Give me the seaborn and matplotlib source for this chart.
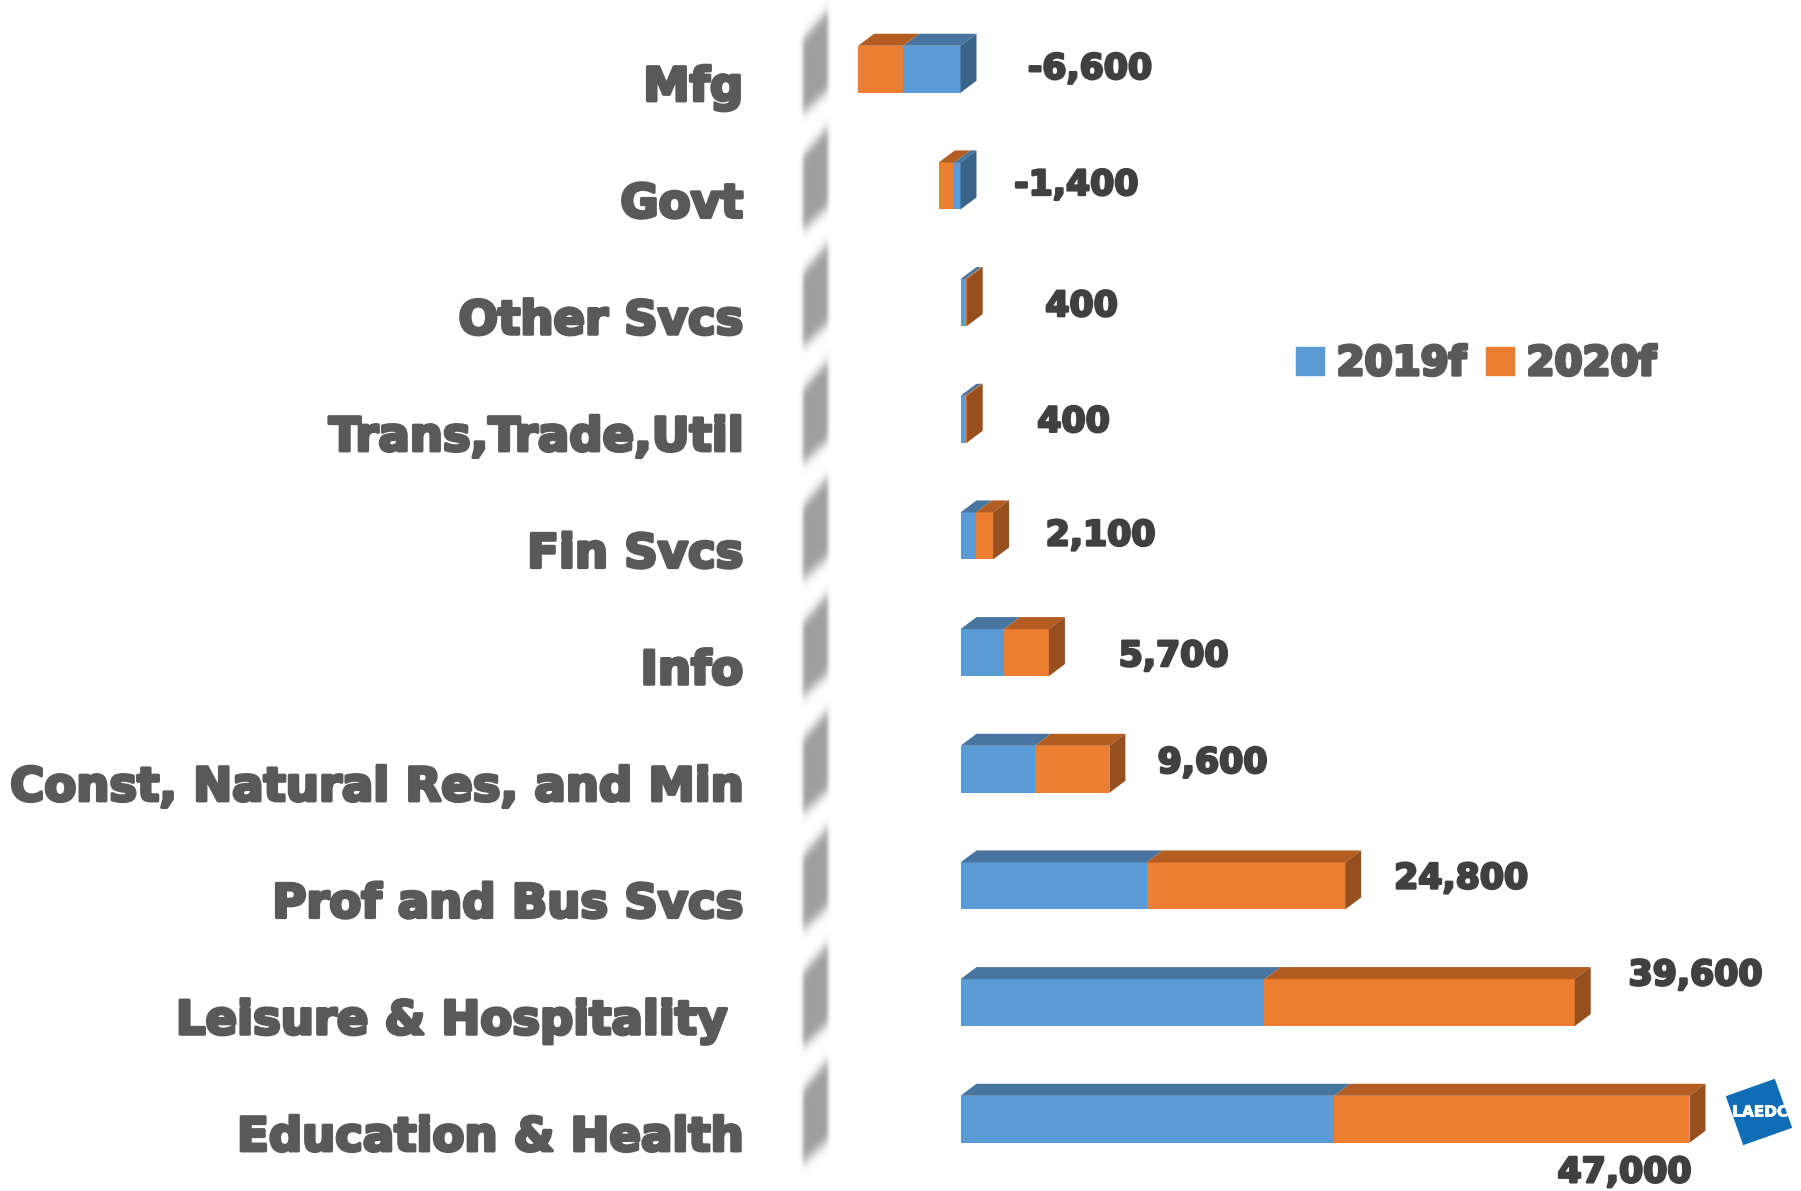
import numpy as np
import pandas as pd
import matplotlib
matplotlib.use('Agg')
import matplotlib.pyplot as plt
import matplotlib.patheffects as pe
from matplotlib.patches import Patch, Rectangle
from matplotlib.transforms import Affine2D, ScaledTranslation
import seaborn as sns

# Values
sectors = ['Mfg', 'Govt', 'Other Svcs', 'Trans,Trade,Util', 'Fin Svcs', 'Info',
           'Const, Natural Res, and Min', 'Prof and Bus Svcs', 'Leisure & Hospitality ',
           'Education & Health']
jobs_2019 = [-3700, -400, 300, 300, 1000, 2800, 4800, 12000, 19600, 24100]
jobs_2020 = [-2900, -1000, 100, 100, 1100, 2900, 4800, 12800, 20000, 22900]
total_labels = ['-6,600', '-1,400', '400', '400', '2,100', '5,700', '9,600', '24,800', '39,600', '47,000']

# Hand placed labels: offset in pixels from the bar end
label_dx = [129.5, 115.7, 114.8, 106.8, 107.4, 124.6, 103.1, 115.9, 120.8, -65]
label_dy = [-0.5, -1, 3.5, 2.5, -0.5, 3.5, -6.5, -7.5, -27.5, 53]

BLUE, ORANGE = '#5B9BD5', '#ED7D31'
BLUE_TOP, ORANGE_TOP = '#47759F', '#B35D22'
BLUE_SIDE, ORANGE_SIDE = '#3A6487', '#97501D'

W, H = 1801, 1191
PX_PER_JOB = 0.01551
ROW_PX = 116.67
ZERO_PX, FIRST_ROW_PX = 960.5, 69.25
AX_LEFT = 760

df = pd.DataFrame({'sector': sectors, '2019f': jobs_2019, '2020f': jobs_2020})
df['total'] = df['2019f'] + df['2020f']

sns.set_theme(style='white')
plt.rcParams['font.family'] = ['DejaVu Sans']
fig = plt.figure(figsize=(W / 100, H / 100), dpi=100)
ax = fig.add_axes([AX_LEFT / W, 0, 1 - AX_LEFT / W, 1])

bar_h = 47 / ROW_PX
sns.barplot(data=df, y='sector', x='total', color=ORANGE, saturation=1, width=bar_h, linewidth=0, ax=ax)
sns.barplot(data=df, y='sector', x='2019f', color=BLUE, saturation=1, width=bar_h, linewidth=0, ax=ax)

ax.set_xlim((AX_LEFT - ZERO_PX) / PX_PER_JOB, (W - ZERO_PX) / PX_PER_JOB)
ax.set_ylim((H - FIRST_ROW_PX) / ROW_PX, -FIRST_ROW_PX / ROW_PX)
sns.despine(ax=ax, left=True, bottom=True)
ax.set_xticks([])
ax.set_xlabel('')
ax.set_ylabel('')

# fake 3D depth of the bars
dx = 16 / PX_PER_JOB
dy = 12 / ROW_PX
for i, (b, t) in enumerate(zip(df['2019f'], df['total'])):
    top = i - bar_h / 2
    bottom = i + bar_h / 2
    ax.fill([0, b, b + dx, dx], [top, top, top - dy, top - dy], color=BLUE_TOP, lw=0, zorder=3)
    ax.fill([b, t, t + dx, b + dx], [top, top, top - dy, top - dy], color=ORANGE_TOP, lw=0, zorder=3)
    end = max(0, t)
    side = BLUE_SIDE if t < 0 else ORANGE_SIDE
    ax.fill([end, end + dx, end + dx, end], [top, top - dy, bottom - dy, bottom], color=side, lw=0, zorder=4)


def gauss(sigma, pad):
    x = np.arange(-pad, pad + 1)
    k = np.exp(-x ** 2 / (2 * sigma ** 2))
    return k / k.sum()


def blur_filter(img, dpi):
    # soft edges for the grey wall segments, softer up and down than sideways
    pad = 20
    out = np.pad(img, [(pad, pad), (pad, pad), (0, 0)])
    a = out[:, :, 3]
    a = np.apply_along_axis(lambda r: np.convolve(r, gauss(6, pad), mode='same'), 0, a)
    a = np.apply_along_axis(lambda r: np.convolve(r, gauss(2, pad), mode='same'), 1, a)
    out[:, :, :3] = 158 / 255
    out[:, :, 3] = a
    return out, -pad, -pad


# the blurred axis wall, one piece per row
wall_left = (803 - ZERO_PX) / PX_PER_JOB
wall_right = (828 - ZERO_PX) / PX_PER_JOB
for i in range(len(sectors)):
    poly = ax.fill([wall_left, wall_right, wall_right, wall_left],
                   [i - 30 / ROW_PX, i - 59 / ROW_PX, i + 21 / ROW_PX, i + 44 / ROW_PX],
                   color='#9E9E9E', lw=0, zorder=1)[0]
    poly.set_agg_filter(blur_filter)

# sector names
ax.tick_params(axis='y', length=0, pad=12.2)
heavy = [pe.withStroke(linewidth=2.4, foreground='#595959')]
shift = ScaledTranslation(0, -14 / 100, fig.dpi_scale_trans)
for lab in ax.get_yticklabels():
    lab.set_fontsize(33.5)
    lab.set_fontweight('bold')
    lab.set_color('#595959')
    lab.set_path_effects(heavy)
    lab.set_transform(lab.get_transform() + shift)

# totals
heavy_dark = [pe.withStroke(linewidth=1.8, foreground='#404040')]
for i, txt in enumerate(total_labels):
    end = max(0, df['total'][i])
    ax.annotate(txt, xy=(end, i), xytext=(label_dx[i] * 0.72, -label_dy[i] * 0.72), textcoords='offset points',
                ha='center', va='center', fontsize=25, fontweight='bold', color='#404040',
                path_effects=heavy_dark, zorder=5)

# legend
handles = [Patch(color=BLUE, label='2019f'), Patch(color=ORANGE, label='2020f')]
leg = ax.legend(handles=handles, ncol=2, frameon=False, prop={'size': 29, 'weight': 'bold'},
                loc='center', bbox_to_anchor=(1476 / W, 1 - 364 / H), bbox_transform=fig.transFigure,
                handlelength=0.7, handleheight=0.7, handletextpad=0.3, columnspacing=0.5,
                labelcolor='#595959', borderpad=0)
for t in leg.get_texts():
    t.set_path_effects(heavy)

# LAEDC logo
logo_tf = Affine2D().rotate_deg(19.5).translate(1759, H - 1112)
fig.add_artist(Rectangle((-26, -26), 52, 52, color='#0F6DB5', lw=0, transform=logo_tf))
fig.text(1760 / W, 1 - 1112 / H, 'LAEDC', color='white', fontsize=11, fontweight='bold',
         ha='center', va='center', path_effects=[pe.withStroke(linewidth=0.6, foreground='white')])

fig.savefig('out.png', dpi=100)
